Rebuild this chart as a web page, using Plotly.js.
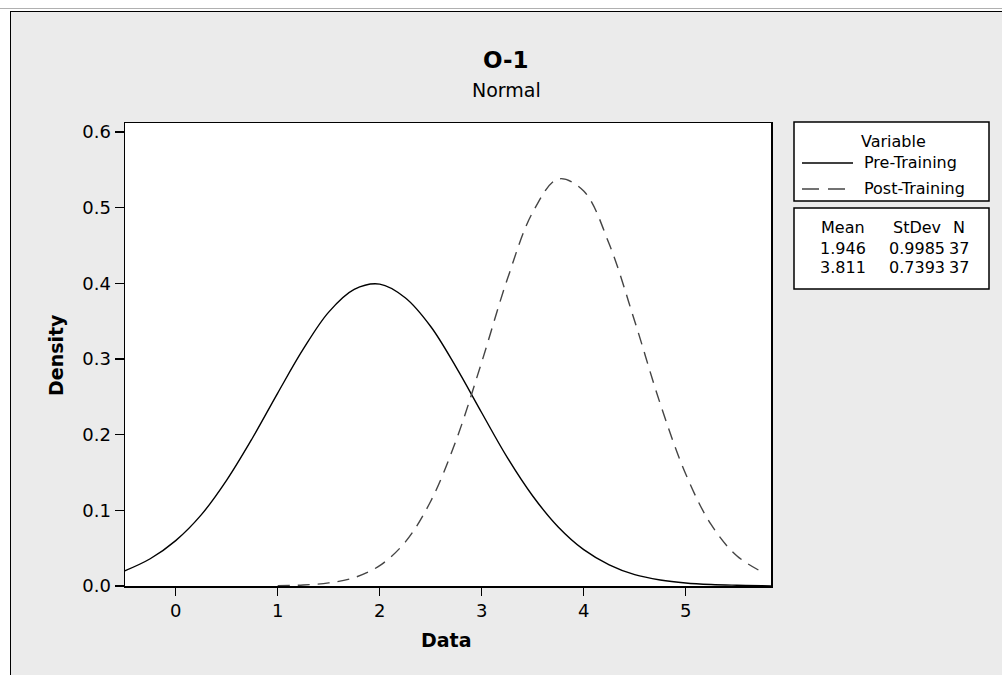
<!DOCTYPE html>
<html>
<head>
<meta charset="utf-8">
<script src="https://cdn.plot.ly/plotly-3.0.1.min.js"></script>
<style>
  html, body { margin:0; padding:0; background:#ffffff; width:1002px; height:675px; overflow:hidden; }
  #topline { position:absolute; left:0; top:8px; width:1002px; height:1px; background:#b0b0b0; }
  #frame { position:absolute; left:10px; top:11px; width:1000px; height:680px; border:1.5px solid #000; background:#ebebeb; }
  #chart { position:absolute; left:0; top:0; width:1002px; height:675px; }
</style>
</head>
<body>
<div id="topline"></div>
<div id="frame"></div>
<div id="chart"></div>
<script>
// ---- Data ----
const preX = [-0.5,-0.25,0,0.25,0.5,0.75,1,1.25,1.5,1.75,2,2.25,2.5,2.75,3,3.25,3.5,3.75,4,4.25,4.5,4.75,5,5.25,5.5,5.75,5.84];
const preY = [0.020,0.036,0.060,0.094,0.140,0.195,0.255,0.313,0.362,0.392,0.399,0.381,0.343,0.289,0.229,0.170,0.119,0.078,0.048,0.028,0.015,0.008,0.004,0.002,0.001,0.0003,0.0002];
const postX = [1.0,1.25,1.5,1.75,2,2.25,2.5,2.75,3,3.25,3.5,3.75,4,4.25,4.5,4.75,5,5.25,5.5,5.77];
const postY = [0.0004,0.0013,0.0041,0.011,0.027,0.058,0.112,0.193,0.296,0.405,0.494,0.538,0.522,0.452,0.350,0.241,0.148,0.081,0.040,0.017];
const seriesNames = ["Pre-Training", "Post-Training"];
const legendTitle = "Variable";
const statHeaders = ["Mean", "StDev", "N"];
const statMean = ["1.946", "3.811"];
const statStDev = ["0.9985", "0.7393"];
const statN = ["37", "37"];
const xTicks = [0,1,2,3,4,5];
const chartTitle = "O-1";
const chartSubtitle = "Normal";
const xLabel = "Data";
const yLabel = "Density";

// ---- layout helpers (pixel -> paper) ----
const L = 125, R = 771, T = 123, B = 586;
const W = R - L, H = B - T;
const px = x => (x - L) / W;
const py = y => (B - y) / H;
const FONT = "DejaVu Sans, Verdana, sans-serif";

const traces = [
  { x: preX, y: preY, type: 'scatter', mode: 'lines', name: seriesNames[0],
    line: { color: '#000000', width: 1.4, shape: 'spline', smoothing: 1 }, showlegend: false, hoverinfo: 'skip' },
  { x: postX, y: postY, type: 'scatter', mode: 'lines', name: seriesNames[1],
    line: { color: '#444444', width: 1.4, dash: '12px,8px', shape: 'spline', smoothing: 1 }, showlegend: false, hoverinfo: 'skip' }
];

const shapes = [
  { type: 'rect', xref: 'paper', yref: 'paper', x0: px(794), x1: px(989), y0: py(122), y1: py(201),
    line: { color: '#000', width: 1.5 }, fillcolor: '#ffffff', layer: 'below' },
  { type: 'rect', xref: 'paper', yref: 'paper', x0: px(794), x1: px(989), y0: py(208), y1: py(289),
    line: { color: '#000', width: 1.5 }, fillcolor: '#ffffff', layer: 'below' },
  { type: 'line', xref: 'paper', yref: 'paper', x0: px(802), x1: px(853), y0: py(163), y1: py(163),
    line: { color: '#000', width: 1.4 } },
  { type: 'line', xref: 'paper', yref: 'paper', x0: px(802), x1: px(853), y0: py(189), y1: py(189),
    line: { color: '#444', width: 1.4, dash: '17px,9px' } }
];

const ann = [];
const A = (text, x, y, size, opts) => Object.assign({
  text, xref: 'paper', yref: 'paper', x: px(x), y: py(y), showarrow: false,
  xanchor: 'center', yanchor: 'middle', font: { family: FONT, size, color: '#000' }
}, opts || {});

ann.push(A('<b>' + chartTitle + '</b>', 506, 60, 23));
ann.push(A(chartSubtitle, 506, 90, 19));
ann.push(A('<b>' + xLabel + '</b>', 446, 640, 19));
ann.push(A('<b>' + yLabel + '</b>', 56, 355, 19, { textangle: -90 }));
ann.push(A(legendTitle, 893, 141, 16));
ann.push(A(seriesNames[0], 862, 163, 16, { xanchor: 'left' }));
ann.push(A(seriesNames[1], 862, 189, 16, { xanchor: 'left' }));
const colX = [843, 917, 959];
statHeaders.forEach((h, i) => ann.push(A(h, colX[i], 227, 16)));
for (let r = 0; r < statMean.length; r++) {
  const yy = 248 + r * 19;
  ann.push(A(statMean[r], colX[0], yy, 16));
  ann.push(A(statStDev[r], colX[1], yy, 16));
  ann.push(A(statN[r], colX[2], yy, 16));
}

const layout = {
  width: 1002, height: 675,
  margin: { l: L, r: 1002 - R, t: T, b: 675 - B, pad: 0 },
  paper_bgcolor: 'rgba(0,0,0,0)',
  plot_bgcolor: '#ffffff',
  font: { family: FONT, color: '#000' },
  xaxis: {
    range: [-0.497, 5.836], tickvals: xTicks, ticktext: xTicks.map(String),
    showline: true, mirror: true, linecolor: '#000', linewidth: 1.5,
    ticks: 'outside', ticklen: 8, tickwidth: 1.5, tickcolor: '#000',
    showgrid: false, zeroline: false, tickfont: { family: FONT, size: 18, color: '#000' }
  },
  yaxis: {
    range: [0, 0.612], tickmode: 'linear', tick0: 0, dtick: 0.1, tickformat: '.1f',
    showline: true, mirror: true, linecolor: '#000', linewidth: 1.5,
    ticks: 'outside', ticklen: 9, tickwidth: 1.5, tickcolor: '#000',
    showgrid: false, zeroline: false, tickfont: { family: FONT, size: 18, color: '#000' }
  },
  shapes, annotations: ann, showlegend: false
};

Plotly.newPlot('chart', traces, layout, { displayModeBar: false, staticPlot: true });
</script>
</body>
</html>
